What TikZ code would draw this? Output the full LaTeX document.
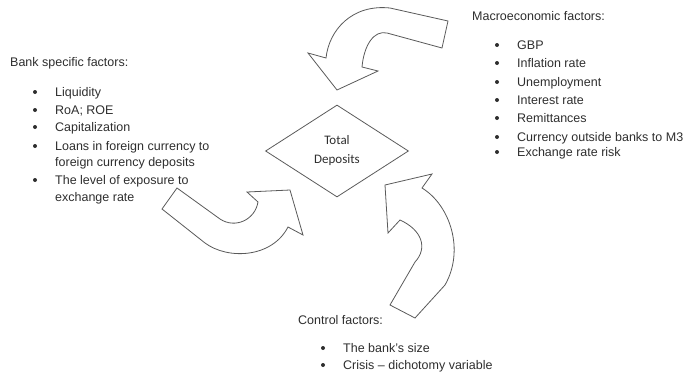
\documentclass[tikz,border=0pt]{standalone}
\usepackage{fontspec}
\setmainfont{Liberation Sans}
\newfontfamily\calibrifont{Carlito}
\usetikzlibrary{shapes.geometric}
\definecolor{txt}{HTML}{2E2E2E}
\definecolor{edge}{HTML}{5A5A5A}
\begin{document}
\begin{tikzpicture}[x=1pt,y=-1pt,
  lbl/.style={anchor=base west,inner sep=0pt,text=txt,font=\fontsize{12.5}{17}\selectfont},
  dot/.style={circle,fill=txt,inner sep=0pt,minimum size=4pt},
  blockarrow/.style={draw=edge,line width=0.8pt,line join=miter,fill=white}]
\useasboundingbox (0,0) rectangle (686,375);

% central diamond
\node[diamond,draw=edge,line width=0.8pt,minimum width=143pt,minimum height=92pt,aspect=1.55,inner sep=0pt,
      text=txt,align=center,font=\calibrifont\fontsize{13}{19}\selectfont] (total) at (337,151) {Total\\Deposits};

% bank specific factors
\node[lbl] (bank) at (10,66) {Bank specific factors:};
\node[lbl] (b1) at (55,96) {Liquidity};
\node[lbl] (b2) at (55,114) {RoA; ROE};
\node[lbl] (b3) at (55,131) {Capitalization};
\node[lbl] (b4) at (55,150) {Loans in foreign currency to};
\node[lbl] (b4b) at (55,166) {foreign currency deposits};
\node[lbl] (b5) at (55,184) {The level of exposure to};
\node[lbl] (b5b) at (55,201) {exchange rate};
\foreach \y in {92,110,127,146,180} \node[dot] at (35,\y) {};

% macroeconomic factors
\node[lbl] (macro) at (472,20) {Macroeconomic factors:};
\node[lbl] (m1) at (517,49) {GBP};
\node[lbl] (m2) at (517,67) {Inflation rate};
\node[lbl] (m3) at (517,86) {Unemployment};
\node[lbl] (m4) at (517,104) {Interest rate};
\node[lbl] (m5) at (517,122) {Remittances};
\node[lbl] (m6) at (517,141) {Currency outside banks to M3};
\node[lbl] (m7) at (517,156) {Exchange rate risk};
\foreach \y in {45,63,82,100,118,137,152} \node[dot] at (497,\y) {};

% control factors
\node[lbl] (control) at (298,324) {Control factors:};
\node[lbl] (c1) at (343,352) {The bank's size};
\node[lbl] (c2) at (343,369) {Crisis -- dichotomy variable};
\foreach \y in {348,365} \node[dot] at (323,\y) {};

% curved block arrows pointing at the diamond
\draw[blockarrow] (448,21) -- (442,48) -- (387,33)
  .. controls (374,30) and (364,45) .. (362,67) -- (378,71) -- (337,90) -- (308,53) -- (326,58)
  .. controls (329,30) and (352,4) .. (390,8) -- cycle;
\draw[blockarrow] (177,188) -- (220,219)
  .. controls (235,229) and (255,220) .. (258,202) -- (247,192) -- (290,190) -- (303,235) -- (288,227)
  .. controls (272,258) and (228,260) .. (205,243) -- (162,209) -- cycle;
\draw[blockarrow] (385,185) -- (432,174) -- (422,188)
  .. controls (450,205) and (465,250) .. (445,285) -- (415,318) -- (390,305) -- (415,262)
  .. controls (428,248) and (422,230) .. (400,220) -- (388,233) -- cycle;
\end{tikzpicture}
\end{document}
